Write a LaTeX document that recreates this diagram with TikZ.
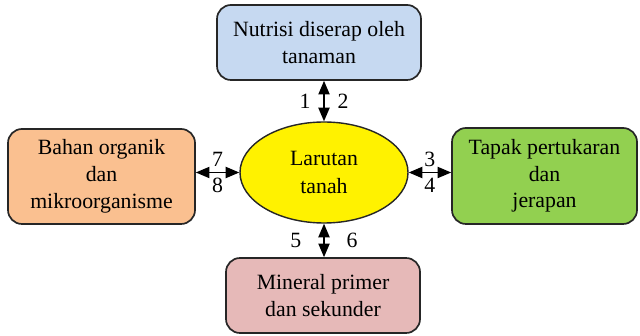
\documentclass[tikz,border=0pt]{standalone}
\usepackage{fontspec}
\setmainfont{Liberation Serif}
\usetikzlibrary{arrows.meta,calc,shapes.geometric}

\begin{document}
\begin{tikzpicture}[>={Triangle[length=3.4mm,width=2.8mm]},box/.style={draw=black!85,line width=1.2pt,rounded corners=3.5mm,align=center,font=\fontsize{15.5}{19}\selectfont,inner sep=0pt},link/.style={<->,line width=1pt},num/.style={font=\fontsize{15.5}{17}\selectfont,inner sep=0pt}]
\useasboundingbox (0,0) rectangle (16,8.375);
\node[box,fill={rgb,255:red,198;green,217;blue,241},minimum width=5.1cm,minimum height=1.875cm] (nutrisi) at (7.975,7.3125) {Nutrisi diserap oleh\\tanaman};
\node[box,fill={rgb,255:red,250;green,192;blue,144},minimum width=4.675cm,minimum height=2.375cm] (bahan) at (2.5375,3.9625) {Bahan organik\\dan\\mikroorganisme};
\node[box,fill={rgb,255:red,146;green,208;blue,80},minimum width=4.625cm,minimum height=2.4cm] (tapak) at (13.6125,3.975) {Tapak pertukaran\\dan\\jerapan};
\node[box,fill={rgb,255:red,230;green,185;blue,184},minimum width=4.85cm,minimum height=1.875cm] (mineral) at (8.075,0.9875) {Mineral primer\\dan sekunder};
\node[ellipse,draw=black!85,line width=1pt,fill=yellow,minimum width=4.2cm,minimum height=2.525cm,align=center,font=\fontsize{15.5}{20}\selectfont,inner sep=0pt] (larutan) at (8.1,4.0625) {Larutan\\tanah};
\draw[link] (larutan.north) -- (larutan.north |- nutrisi.south) node[num,midway,left=3.2mm] {1} node[num,midway,right=3.2mm] {2};
\draw[link] (larutan.south) -- (larutan.south |- mineral.north) node[num,midway,left=5.5mm] {5} node[num,midway,right=5.5mm] {6};
\draw[link] (larutan.west) -- (larutan.west -| bahan.east) node[num,midway,above=1.3mm] {7} node[num,midway,below=1.3mm] {8};
\draw[link] (larutan.east) -- (larutan.east -| tapak.west) node[num,midway,above=1.3mm] {3} node[num,midway,below=1.3mm] {4};
\end{tikzpicture}
\end{document}
